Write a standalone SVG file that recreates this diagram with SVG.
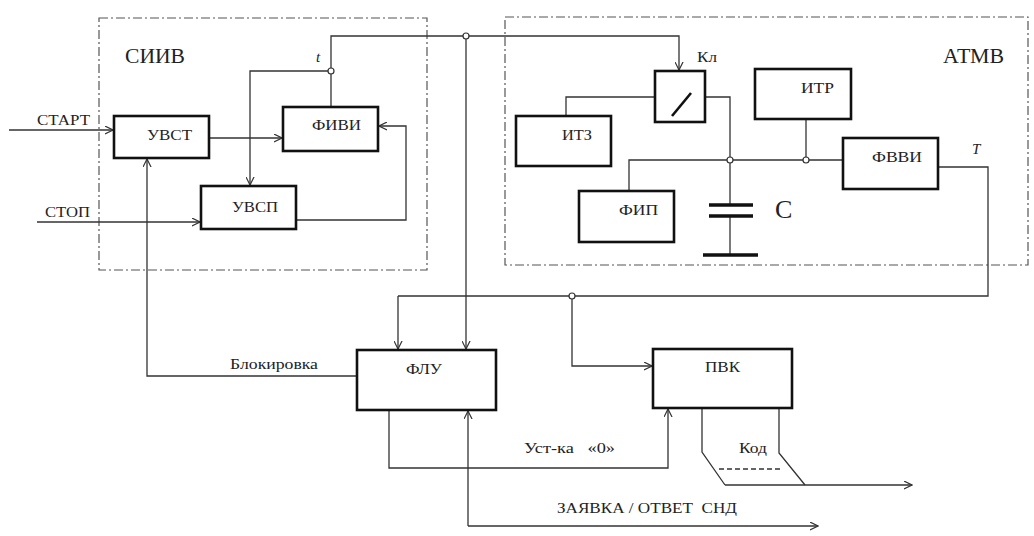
<svg xmlns="http://www.w3.org/2000/svg" width="1034" height="536" viewBox="0 0 1034 536">
<defs>
<marker id="arr" viewBox="0 0 10 10" refX="9" refY="5" markerWidth="9" markerHeight="9" markerUnits="userSpaceOnUse" orient="auto">
<path d="M0,0.5 L9,5 L0,9.5" fill="none" stroke="#333" stroke-width="1.3"/>
</marker>
</defs>
<style>
.frame{fill:none;stroke:#555;stroke-width:1.2;stroke-dasharray:9 3 2 3}
.box{fill:#fff;stroke:#111;stroke-width:2.6}
.w{fill:none;stroke:#333;stroke-width:1.3}
.a{fill:none;stroke:#333;stroke-width:1.3;marker-end:url(#arr)}
.j{fill:#fff;stroke:#333;stroke-width:1.2}
text{font-family:'Liberation Serif','DejaVu Serif',serif;fill:#222;font-size:15px}
.big{font-size:20px}
.it{font-style:italic}
</style>
<rect width="1034" height="536" fill="#fff"/>

<g id="siiv-frame">
<rect class="frame" x="99" y="18" width="328" height="252"/>
<text class="big" x="125" y="63" textLength="60" lengthAdjust="spacingAndGlyphs">СИИВ</text>
</g>
<g id="atmv-frame">
<rect class="frame" x="505" y="17" width="523" height="248"/>
<text class="big" x="943" y="63" textLength="61" lengthAdjust="spacingAndGlyphs">АТМВ</text>
</g>

<g id="connectors">
<line class="a" x1="9" y1="130" x2="113" y2="130"/>
<line class="a" x1="37" y1="222" x2="200" y2="222"/>
<line class="a" x1="209" y1="138" x2="282" y2="138"/>
<polyline class="w" points="331,107 331,36 466,36"/>
<polyline class="a" points="331,71 250,71 250,185"/>
<polyline class="a" points="296,220 406,220 406,126 379,126"/>
<polyline class="a" points="466,36 679,36 679,70"/>
<line class="a" x1="466" y1="36" x2="466" y2="349"/>
<polyline class="w" points="566,116 566,97 655,97"/>
<polyline class="w" points="705,97 730,97 730,205"/>
<polyline class="w" points="629,191 629,160 843,160"/>
<line class="w" x1="806" y1="119" x2="806" y2="160"/>
<line class="w" x1="730" y1="216" x2="730" y2="255"/>
<polyline class="w" points="938,167 988,167 988,296 398,296"/>
<line class="a" x1="398" y1="296" x2="398" y2="349"/>
<polyline class="a" points="572,296 572,366 652,366"/>
<polyline class="a" points="357,376 147,376 147,159"/>
<polyline class="a" points="389,410 389,468 668,468 668,409"/>
<polyline class="a" points="468,526 468,411"/>
<polyline class="a" points="468,526 818,526"/>
<polyline class="w" points="702,408 702,452 725,485"/>
<polyline class="w" points="779,408 779,453 805,485"/>
<line class="a" x1="725" y1="485" x2="912" y2="485"/>
<line class="w" x1="719" y1="469" x2="782" y2="469" stroke-dasharray="5 3"/>
<circle class="j" cx="331" cy="71" r="3"/>
<circle class="j" cx="466" cy="36" r="3"/>
<circle class="j" cx="730" cy="160" r="3"/>
<circle class="j" cx="806" cy="160" r="3"/>
<circle class="j" cx="572" cy="296" r="3"/>
</g>

<g id="labels">
<text x="37" y="125" textLength="53" lengthAdjust="spacingAndGlyphs">СТАРТ</text>
<text x="45" y="217" textLength="45" lengthAdjust="spacingAndGlyphs">СТОП</text>
<text class="it" x="316" y="62">t</text>
<text x="697" y="62" textLength="20" lengthAdjust="spacingAndGlyphs">Кл</text>
<text class="it" x="972" y="154">T</text>
<text x="775" y="218" style="font-size:26px">С</text>
<text x="230" y="369" textLength="88" lengthAdjust="spacingAndGlyphs">Блокировка</text>
<text x="524" y="453" textLength="91" lengthAdjust="spacingAndGlyphs" xml:space="preserve">Уст-ка   «0»</text>
<text x="739" y="453" textLength="28" lengthAdjust="spacingAndGlyphs">Код</text>
<text x="557" y="513" textLength="180" lengthAdjust="spacingAndGlyphs" xml:space="preserve">ЗАЯВКА / ОТВЕТ  СНД</text>
</g>

<g id="uvst">
<rect class="box" x="114" y="116" width="95" height="42"/>
<text x="147" y="140" textLength="45" lengthAdjust="spacingAndGlyphs">УВСТ</text>
</g>
<g id="fivi">
<rect class="box" x="283" y="107" width="95" height="44"/>
<text x="312" y="130" textLength="49" lengthAdjust="spacingAndGlyphs">ФИВИ</text>
</g>
<g id="uvsp">
<rect class="box" x="201" y="186" width="95" height="43"/>
<text x="232" y="212" textLength="46" lengthAdjust="spacingAndGlyphs">УВСП</text>
</g>
<g id="kl">
<rect class="box" x="655" y="71" width="50" height="51"/>
<line x1="672" y1="116" x2="691" y2="93" stroke="#111" stroke-width="2.6"/>
</g>
<g id="itz">
<rect class="box" x="516" y="116" width="95" height="50"/>
<text x="562" y="140" textLength="30" lengthAdjust="spacingAndGlyphs">ИТЗ</text>
</g>
<g id="itr">
<rect class="box" x="755" y="69" width="96" height="50"/>
<text x="801" y="93" textLength="33" lengthAdjust="spacingAndGlyphs">ИТР</text>
</g>
<g id="fip">
<rect class="box" x="579" y="191" width="95" height="51"/>
<text x="619" y="215" textLength="39" lengthAdjust="spacingAndGlyphs">ФИП</text>
</g>
<g id="fvvi">
<rect class="box" x="843" y="138" width="95" height="51"/>
<text x="872" y="162" textLength="50" lengthAdjust="spacingAndGlyphs">ФВВИ</text>
</g>
<g id="capacitor">
<line x1="709" y1="205" x2="753" y2="205" stroke="#111" stroke-width="3.5"/>
<line x1="709" y1="216" x2="753" y2="216" stroke="#111" stroke-width="3.5"/>
<line x1="703" y1="255" x2="758" y2="255" stroke="#111" stroke-width="3.5"/>
</g>
<g id="flu">
<rect class="box" x="357" y="350" width="139" height="60"/>
<text x="406" y="374" textLength="36" lengthAdjust="spacingAndGlyphs">ФЛУ</text>
</g>
<g id="pvk">
<rect class="box" x="653" y="349" width="139" height="59"/>
<text x="705" y="372" textLength="35" lengthAdjust="spacingAndGlyphs">ПВК</text>
</g>
</svg>
